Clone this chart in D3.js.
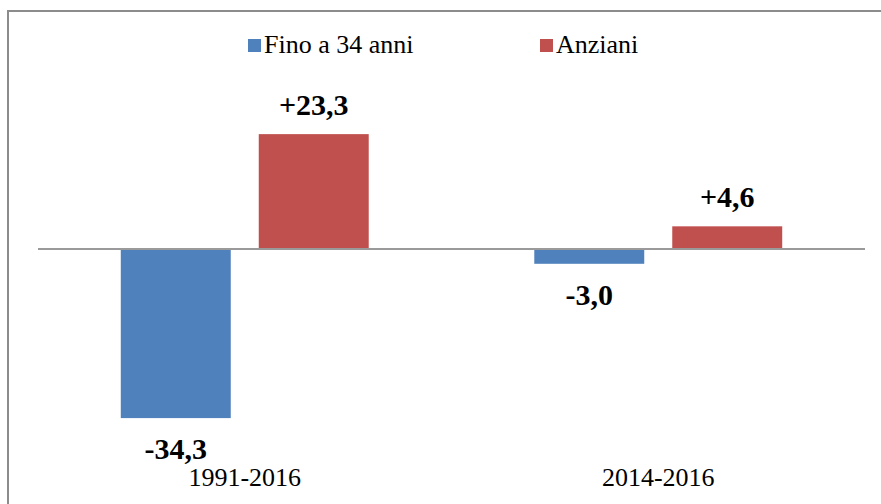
<!DOCTYPE html>
<html>
<head>
<meta charset="utf-8">
<script src="https://cdn.jsdelivr.net/npm/d3@7"></script>
<style>
  body { margin: 0; background: #fff; }
  text { font-family: "Liberation Serif", "Times New Roman", "DejaVu Serif", serif; }
</style>
</head>
<body>
<div id="chart"></div>
<script>
var periods = ["1991-2016", "2014-2016"]
var seriesNames = ["Fino a 34 anni", "Anziani"]
var giovani = [-34.3, -3.0]
var anziani = [23.3, 4.6]
var colors = { "Fino a 34 anni": "#4F81BD", "Anziani": "#C0504D" }

var width = 881, height = 504
var serif = "'Liberation Serif', 'Times New Roman', serif"

var svg = d3.select("#chart").append("svg")
    .attr("width", width).attr("height", height)
    .style("display", "block")

// outer frame
svg.append("rect")
    .attr("x", 8).attr("y", 11)
    .attr("width", 890).attr("height", 520)
    .style("fill", "none")
    .style("stroke", "#8c8c8c")
    .style("stroke-width", 2)

var x0 = d3.scaleBand().domain(periods).range([38, 865]).padding(0)
var x1 = d3.scaleBand().domain(seriesNames).range([0, x0.bandwidth()])
    .paddingInner(0.203).paddingOuter(0.6)
var y = d3.scaleLinear().domain([-40, 30]).range([446.2, 101.1])

var rows = []
periods.forEach(function(p, i) {
    rows.push({ period: p, serie: "Fino a 34 anni", value: giovani[i] })
    rows.push({ period: p, serie: "Anziani", value: anziani[i] })
})

var fmt = function(v) {
    var s = d3.format(".1f")(Math.abs(v)).replace(".", ",")
    return (v > 0 ? "+" : "-") + s
}

var g = svg.selectAll("g.bar")
    .data(rows)
    .enter().append("g")
    .attr("class", "bar")

g.append("rect")
    .attr("x", function(d) { return x0(d.period) + x1(d.serie) })
    .attr("width", x1.bandwidth())
    .attr("y", function(d) { return y(Math.max(0, d.value)) })
    .attr("height", function(d) { return Math.abs(y(d.value) - y(0)) })
    .style("fill", function(d) { return colors[d.serie] })

g.append("text")
    .text(function(d) { return fmt(d.value) })
    .attr("x", function(d) { return x0(d.period) + x1(d.serie) + x1.bandwidth() / 2 })
    .attr("y", function(d) {
        if (d.value > 0) { return y(d.value) - 19 }
        else { return y(d.value) + 41 } })
    .attr("text-anchor", "middle")
    .style("font-family", serif)
    .style("font-size", "30px")
    .style("font-weight", "bold")
    .style("fill", "#000")

// zero line
svg.append("line")
    .attr("x1", 38).attr("x2", 865)
    .attr("y1", y(0)).attr("y2", y(0))
    .style("stroke", "#9a9a9a")
    .style("stroke-width", 2)

// category labels
svg.selectAll("text.cat")
    .data(periods)
    .enter().append("text")
    .attr("class", "cat")
    .attr("x", function(d) { return x0(d) + x0.bandwidth() / 2 })
    .attr("y", 486)
    .attr("text-anchor", "middle")
    .style("font-family", serif)
    .style("font-size", "26px")
    .text(function(d) { return d })

// legend
var legendX = { "Fino a 34 anni": 248, "Anziani": 540 }
var lg = svg.selectAll("g.legend")
    .data(seriesNames)
    .enter().append("g")
    .attr("class", "legend")
    .attr("transform", function(d) { return "translate(" + legendX[d] + ",0)" })

lg.append("rect")
    .attr("x", 0).attr("y", 39)
    .attr("width", 13).attr("height", 13)
    .style("fill", function(d) { return colors[d] })

lg.append("text")
    .attr("x", 16).attr("y", 53)
    .style("font-family", serif)
    .style("font-size", "26px")
    .text(function(d) { return d })
</script>
</body>
</html>
